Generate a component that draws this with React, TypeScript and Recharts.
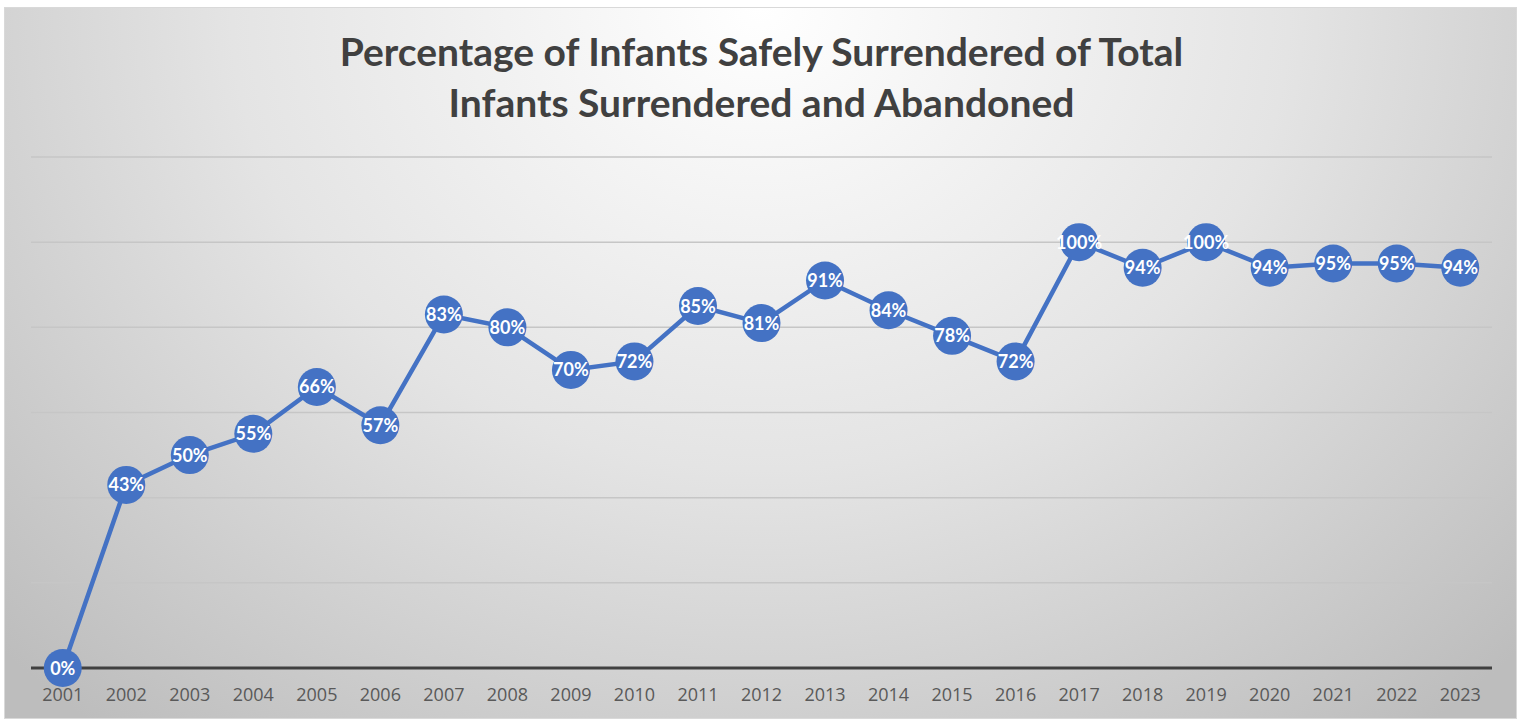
import React from "react";
import { LineChart, Line, XAxis, YAxis, CartesianGrid, LabelList } from "recharts";

const years = ["2001","2002","2003","2004","2005","2006","2007","2008","2009","2010","2011","2012","2013","2014","2015","2016","2017","2018","2019","2020","2021","2022","2023"];
const pct = [0,43,50,55,66,57,83,80,70,72,85,81,91,84,78,72,100,94,100,94,95,95,94];
const yTicks = [0,20,40,60,80,100,120];
const titleLines = ["Percentage of Infants Safely Surrendered of Total", "Infants Surrendered and Abandoned"];

const data = years.map((y, i) => ({ year: y, value: pct[i] }));

const W = 1513;
const H = 712;

const Dot = (props: any) => {
  const { cx, cy } = props;
  if (cx == null || cy == null) return null;
  return <circle cx={cx} cy={cy} r={19} fill="#4472C4" />;
};

const Lbl = (props: any) => {
  const { x, y, value } = props;
  return (
    <text x={x} y={y} dy={6.5} textAnchor="middle" fill="#ffffff" fontFamily="Lato, 'Open Sans', sans-serif" fontWeight={700} fontSize={18}>
      {value}%
    </text>
  );
};

export default function App() {
  return (
    <div style={{ position: "absolute", left: 4, top: 7, width: W, height: H, border: "1px solid #d9d9d9", boxSizing: "border-box",
      background: "radial-gradient(ellipse 70% 130% at 50% 0%, #ffffff 0%, #e4e4e4 50%, #bdbdbd 100%)", overflow: "hidden" }}>
      <div style={{ position: "absolute", left: 0, top: 18, width: W, textAlign: "center", fontFamily: "Lato, 'Open Sans', sans-serif", fontWeight: 700, fontSize: 39, lineHeight: "51px", color: "#404040" }}>
        {titleLines.map((t, i) => <div key={i}>{t}</div>)}
      </div>
      <div style={{ position: "absolute", left: -1, top: -1 }}>
        <LineChart width={W} height={H} data={data} margin={{ top: 150, left: 27, right: 25, bottom: 21 }}>
          <CartesianGrid vertical={false} stroke="#c6c6c6" strokeWidth={1.5} />
          <YAxis hide domain={[0, 120]} ticks={yTicks} />
          <XAxis dataKey="year" axisLine={{ stroke: "#404040", strokeWidth: 3 }} tickLine={false}
            padding={{ left: 31.75, right: 31.75 }} height={30}
            tick={{ fill: "#595959", fontSize: 18, fontFamily: "'Open Sans', Lato, sans-serif" }} dy={12} interval={0} />
          <Line dataKey="value" stroke="#4472C4" strokeWidth={4.5} dot={<Dot />} activeDot={false} isAnimationActive={false}>
            <LabelList dataKey="value" content={<Lbl />} />
          </Line>
        </LineChart>
      </div>
    </div>
  );
}
